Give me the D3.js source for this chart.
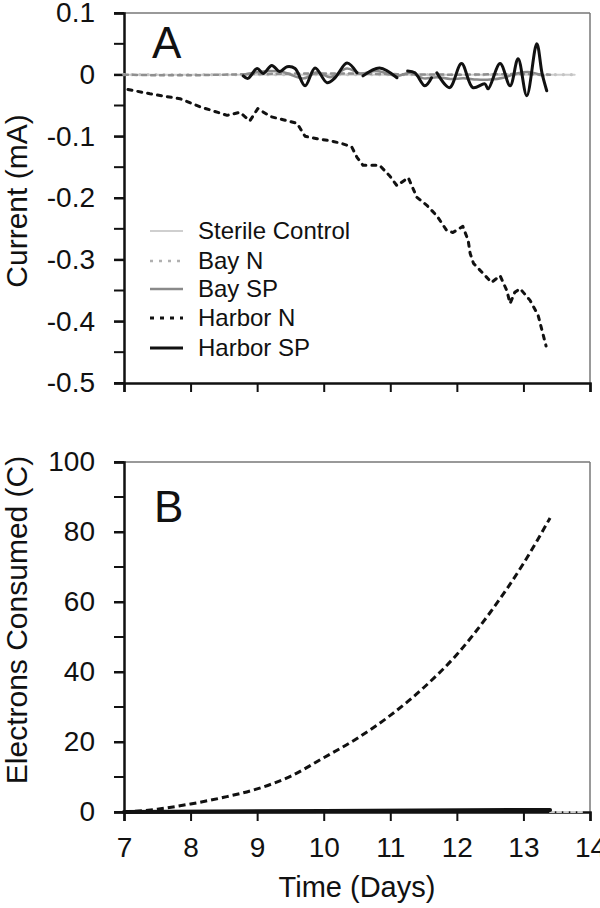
<!DOCTYPE html>
<html><head><meta charset="utf-8">
<script src="https://cdn.jsdelivr.net/npm/d3@7"></script>
<style>body{margin:0;background:#fff}svg{display:block}text{font-family:"Liberation Sans",Arial,sans-serif;fill:#111}</style>
</head><body><svg id="c" width="600" height="908"></svg>
<script>
// ---- Data ----
const xTicks = [7,8,9,10,11,12,13,14];
const yTicksA = [0.1,0,-0.1,-0.2,-0.3,-0.4,-0.5];
const yTicksB = [0,20,40,60,80,100];
const seriesNames = ["Sterile Control","Bay N","Bay SP","Harbor N","Harbor SP"];

// Panel A: current (mA)
const hnDays = [7.06,7.39,7.84,8.14,8.55,8.74,8.89,9.01,9.2,9.39,9.6,9.72,9.9,10.09,10.25,10.42,10.5,10.59,10.84,10.99,11.1,11.27,11.4,11.55,11.7,11.85,11.94,12.09,12.17,12.2,12.25,12.4,12.52,12.65,12.75,12.8,12.87,12.95,13.1,13.22,13.28,13.34];
const hnCurrent = [-0.024,-0.031,-0.039,-0.052,-0.066,-0.061,-0.075,-0.055,-0.068,-0.073,-0.079,-0.100,-0.104,-0.107,-0.111,-0.117,-0.134,-0.147,-0.147,-0.164,-0.180,-0.167,-0.199,-0.212,-0.229,-0.253,-0.256,-0.246,-0.269,-0.290,-0.306,-0.323,-0.337,-0.326,-0.350,-0.371,-0.353,-0.347,-0.366,-0.390,-0.415,-0.44];

const hspDays = [8.79,8.86,9.0,9.09,9.22,9.34,9.45,9.57,9.72,9.87,10.05,10.17,10.35,10.5,10.55,10.59,10.84,11.1,11.18,11.26,11.37,11.52,11.62,11.66,11.7,11.89,12.07,12.24,12.42,12.47,12.65,12.8,12.92,13.05,13.2,13.28,13.35];
const hspCurrent = [-0.002,-0.006,0.010,0.002,0.015,0.005,0.013,0.010,-0.018,0.011,-0.013,-0.005,0.019,0.003,null,-0.002,0.011,-0.005,null,0.006,0.003,-0.018,-0.005,null,0.003,-0.021,0.018,-0.021,-0.015,-0.023,0.018,-0.018,0.026,-0.034,0.05,0.002,-0.026];

const bspDays = [8.8,9.0,9.2,9.4,9.7,9.9,10.1,10.35,10.55,10.8,11.1,11.3,11.5,11.7,11.9,12.1,12.3,12.5,12.7,12.9,13.1,13.3];
const bspCurrent = [0,0.004,0.006,0.004,-0.006,0.004,-0.004,0.010,0.002,0.006,-0.002,0.003,-0.006,-0.004,-0.007,-0.006,-0.008,-0.008,-0.005,0.002,0.004,-0.002];

const bnDays = [7.0,7.5,8.0,8.5,9.0,10.0,11.0,12.0,13.0,13.4];
const bnCurrent = [0,-0.001,-0.001,0,0.001,0.002,0.001,0,0.001,0];

const scDays = [7.0,8.0,9.0,10.0,11.0,12.0,13.0,13.77];
const scCurrent = [0,0,0,0,0,0,0,0];

// Panel B: electrons consumed (C)
const hnBDays = [7.0,7.5,8.0,8.5,9.0,9.5,10.0,10.5,11.0,11.5,12.0,12.5,13.0,13.4];
const hnCharge = [0,0.8,2.3,4.2,6.6,10.2,15.5,21.0,27.6,35.5,45.0,57.0,71.0,84.0];
const hspBDays = [7.0,10.0,13.4];
const hspCharge = [0,0.3,0.6];
const scBDays = [13.4,13.9];
const scCharge = [0,0];

// ---- Drawing ----
const svg = d3.select("#c");
const L = 124, R = 590;
const x = d3.scaleLinear().domain([7,14]).range([L,R]);
const yA = d3.scaleLinear().domain([-0.5,0.1]).range([383,13]);
const yB = d3.scaleLinear().domain([0,100]).range([812,462]);

const styles = {
  "Sterile Control": {stroke:"#cfcfcf", width:2, dash:null},
  "Bay N": {stroke:"#8f8f8f", width:2.5, dash:"4,5"},
  "Bay SP": {stroke:"#8a8a8a", width:2.5, dash:null},
  "Harbor N": {stroke:"#111", width:3, dash:"4,6"},
  "Harbor SP": {stroke:"#111", width:3, dash:null}
};

function zip(a,b){return a.map((d,i)=>({x:d,y:b[i]}));}
const FONT = "Liberation Sans, Arial, sans-serif";

function frame(y, top, bottom, yTicks, minorStep, fmt, showXLabels){
  const g = svg.append("g");
  g.append("line").attr("x1",L).attr("x2",R).attr("y1",top).attr("y2",top).attr("stroke","#777").attr("stroke-width",1.5);
  g.append("line").attr("x1",R).attr("x2",R).attr("y1",top).attr("y2",bottom).attr("stroke","#777").attr("stroke-width",1.5);
  const dom = y.domain();
  const minor = d3.range(dom[0], dom[1]+minorStep/2, minorStep);
  const ya = d3.axisLeft(y).tickValues(yTicks).tickFormat(fmt).tickSize(10).tickPadding(19);
  const gy = g.append("g").attr("transform",`translate(${L},0)`).call(ya);
  gy.selectAll(".tick line").attr("stroke","#111").attr("stroke-width",2);
  gy.select(".domain").attr("stroke","#111").attr("stroke-width",2.5);
  gy.selectAll("text").attr("font-size",28).attr("fill","#111").attr("font-family",FONT);
  g.selectAll(".minY").data(minor).enter().append("line")
    .attr("x1",L-10).attr("x2",L).attr("y1",d=>y(d)).attr("y2",d=>y(d)).attr("stroke","#111").attr("stroke-width",2);
  const xa = d3.axisBottom(x).tickValues(xTicks).tickSize(9).tickPadding(16).tickFormat(showXLabels? d3.format("d"): ()=>"");
  const gx = g.append("g").attr("transform",`translate(0,${bottom})`).call(xa);
  gx.selectAll(".tick line").attr("stroke","#111").attr("stroke-width",2);
  gx.select(".domain").attr("stroke","#111").attr("stroke-width",2.5);
  gx.selectAll("text").attr("font-size",28).attr("fill","#111").attr("font-family",FONT);
}

const fmtA = d => d===0 ? "0" : d3.format(".1f")(d).replace("\u2212","-");
frame(yA, 13, 383, yTicksA, 0.05, fmtA, false);
frame(yB, 462, 812, yTicksB, 10, d3.format("d"), true);

function drawLine(y, data, name, curve){
  const s = styles[name];
  const line = d3.line().defined(d=>d.y!==null).x(d=>x(d.x)).y(d=>y(d.y)).curve(curve||d3.curveCatmullRom);
  const p = svg.append("path").datum(data).attr("d",line).attr("fill","none")
    .attr("stroke",s.stroke).attr("stroke-width",s.width).attr("stroke-linecap","round").attr("stroke-linejoin","round");
  if(s.dash) p.attr("stroke-dasharray",s.dash);
  return p;
}

// Panel A lines
drawLine(yA, zip(scDays, scCurrent), "Sterile Control", d3.curveLinear);
svg.append("g").selectAll("circle").data(d3.range(7,13.8,0.12)).enter().append("circle")
  .attr("cx",d=>x(d)).attr("cy",yA(0)).attr("r",1.6).attr("fill","#c4c4c4");
drawLine(yA, zip(bnDays, bnCurrent), "Bay N");
drawLine(yA, zip(bspDays, bspCurrent), "Bay SP");
drawLine(yA, zip(hnDays, hnCurrent), "Harbor N", d3.curveLinear);
drawLine(yA, zip(hspDays, hspCurrent), "Harbor SP");

// Panel B lines
drawLine(yB, zip(scBDays, scCharge), "Sterile Control", d3.curveLinear).attr("stroke-dasharray","4,3");
drawLine(yB, zip(hspBDays, hspCharge), "Harbor SP", d3.curveLinear).attr("stroke-width",4);
drawLine(yB, zip(hnBDays, hnCharge), "Harbor N", d3.curveMonotoneX).attr("stroke-dasharray","7,4").attr("stroke-linecap","butt");

// Legend
const lg = svg.append("g");
const rowY = [231,261,289,318,348];
const legendStroke = {"Sterile Control":"#cfcfcf","Bay N":"#b0b0b0","Bay SP":"#8a8a8a","Harbor N":"#111","Harbor SP":"#111"};
seriesNames.forEach((n,i)=>{
  const s = styles[n];
  const ln = lg.append("line").attr("x1",150).attr("x2",183).attr("y1",rowY[i]).attr("y2",rowY[i])
    .attr("stroke",legendStroke[n]).attr("stroke-width",s.width);
  if(s.dash) ln.attr("stroke-dasharray", n==="Harbor N"?"4,6":"3,6");
  lg.append("text").attr("x",198).attr("y",rowY[i]).attr("dy","0.35em").attr("font-size",24).text(n);
});

// Panel letters
svg.append("text").attr("x",152).attr("y",58).attr("font-size",44).text("A");
svg.append("text").attr("x",154).attr("y",522).attr("font-size",44).text("B");

// Axis titles
svg.append("text").attr("transform","translate(27,201) rotate(-90)").attr("text-anchor","middle").attr("font-size",30).text("Current (mA)");
svg.append("text").attr("transform","translate(27,620) rotate(-90)").attr("text-anchor","middle").attr("font-size",30).text("Electrons Consumed (C)");
svg.append("text").attr("x",357).attr("y",897).attr("text-anchor","middle").attr("font-size",29).text("Time (Days)");
</script></body></html>
